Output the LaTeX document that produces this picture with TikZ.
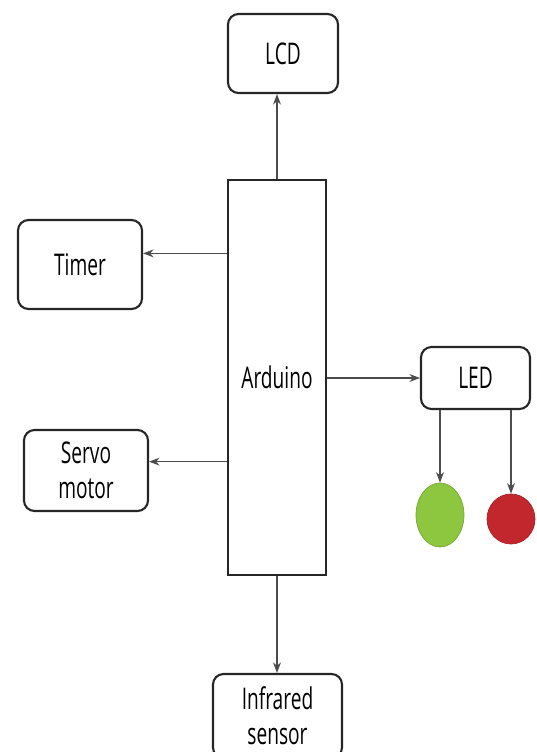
\documentclass[tikz,border=0pt]{standalone}
\usepackage{fontspec}
\setmainfont{Open Sans}[FakeStretch=0.64]
\usepackage{xcolor}
\usetikzlibrary{arrows.meta,positioning,shapes}
\definecolor{ledgreen}{HTML}{8DC63F}
\definecolor{ledred}{HTML}{C1272D}
\tikzset{
  blkbox/.style={draw=black!85,line width=1.2pt,rounded corners=6pt,inner sep=0pt,align=center,font=\fontsize{17}{19.8}\selectfont},
  mcubox/.style={draw=black!85,line width=1pt,inner sep=0pt,font=\fontsize{17}{19.8}\selectfont},
  lampnode/.style={ellipse,inner sep=0pt,line width=0.4pt},
  sigedge/.style={-{Stealth[length=6pt,width=4.5pt]},line width=0.6pt,black!70},
}

\begin{document}
\begin{tikzpicture}[x=0.02cm,y=-0.02cm]
  \useasboundingbox (0,0) rectangle (537,752);
  \clip (0,0) rectangle (537,752);
  \node[mcubox,minimum width=98*0.02cm,minimum height=395*0.02cm] (ard) at (277,377.5) {Arduino};
  \node[blkbox,minimum width=110*0.02cm,minimum height=79*0.02cm] (lcd) at (283,53.5) {LCD};
  \node[blkbox,minimum width=124*0.02cm,minimum height=89*0.02cm] (tmr) at (80,264.5) {Timer};
  \node[blkbox,minimum width=124*0.02cm,minimum height=81*0.02cm] (srv) at (86,470.5) {Servo\\motor};
  \node[blkbox,minimum width=109*0.02cm,minimum height=62*0.02cm] (led) at (475.5,378) {LED};
  \node[blkbox,minimum width=129*0.02cm,minimum height=84*0.02cm] (ir) at (277.5,716) {Infrared\\sensor};
  \node[lampnode,fill=ledgreen,draw=ledgreen!85!black,minimum width=48*0.02cm,minimum height=64*0.02cm] (grn) at (440,515) {};
  \node[lampnode,fill=ledred,draw=ledred!85!black,minimum width=48*0.02cm,minimum height=50*0.02cm] (red) at (511,519) {};
  \draw[sigedge] (ard.north) -- (ard.north |- lcd.south);
  \draw[sigedge] (ard.west |- tmr.10) -- (tmr.10);
  \draw[sigedge] (ard.west |- srv.8) -- (srv.8);
  \draw[sigedge] (ard.east |- led.west) -- (led.west);
  \draw[sigedge] (ard.south) -- (ard.south |- ir.north);
  \draw[sigedge] (grn.north |- led.south) -- (grn.north);
  \draw[sigedge] (red.north |- led.south) -- (red.north);
\end{tikzpicture}
\end{document}
